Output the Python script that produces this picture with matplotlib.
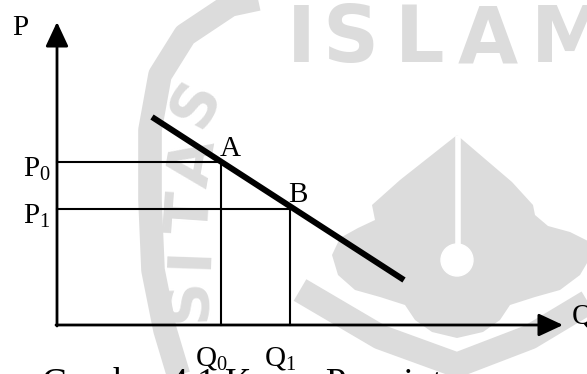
import numpy as np
import matplotlib
matplotlib.use("Agg")
import matplotlib.pyplot as plt
from matplotlib.patches import Polygon, Circle

plt.rcParams['font.family'] = ['Liberation Serif', 'DejaVu Serif']
plt.rcParams['mathtext.fontset'] = 'custom'
plt.rcParams['mathtext.rm'] = 'Liberation Serif'
plt.rcParams['mathtext.it'] = 'Liberation Serif'

# demand curve and the two equilibrium points (quantity, price)
demand_q = [95, 347]
demand_p = [208, 45]
point_names = ['A', 'B']
q_values = [164, 233]
p_values = [163, 116]
q_labels = [r'$\mathrm{Q}_0$', r'$\mathrm{Q}_1$']
p_labels = [r'$\mathrm{P}_0$', r'$\mathrm{P}_1$']
caption = 'Gambar 4.1 Kurva Permintaan'

fig = plt.figure(figsize=(5.87, 3.74), dpi=100)
ax = fig.add_axes([0, 0, 1, 1])
ax.set_xlim(-57, 530)
ax.set_ylim(-49, 325)
ax.axis('off')

# faint university logo watermark behind the chart (page pixel coords)
wm = '#dcdcdc'
def px(x, y):
    return (x - 57, 325 - y)

for ch, x in zip('ISLAM', [301, 350, 420, 488, 570]):
    ax.text(*px(x, 40), ch, fontsize=56, family='DejaVu Sans', fontweight='bold',
            color=wm, va='center', ha='center', zorder=0)

ring = [px(300, -10), px(230, 5), px(185, 35), px(160, 75), px(150, 130),
        px(150, 200), px(153, 270), px(165, 330), px(180, 380)]
ax.plot(*zip(*ring), color=wm, lw=17, solid_capstyle='butt', zorder=0)
ring_text = [('S', 197, 103, 62), ('A', 195, 163, 80), ('T', 192, 213, 86),
             ('I', 190, 257, 88), ('S', 188, 300, 92)]
for ch, x, y, rot in ring_text:
    ax.text(*px(x, y), ch, fontsize=44, family='DejaVu Sans', fontweight='bold',
            color=wm, rotation=rot, va='center', ha='center', zorder=0)

base = [px(300, 290), px(380, 337), px(457, 365), px(530, 337), px(600, 295)]
ax.plot(*zip(*base), color=wm, lw=18, solid_capstyle='butt', zorder=0)
body = [(457, 135), (400, 180), (372, 205), (375, 220), (358, 228), (340, 238),
        (332, 255), (338, 275), (355, 290), (380, 297), (405, 305), (415, 320),
        (432, 332), (457, 338), (483, 332), (500, 320), (510, 305), (535, 297),
        (560, 290), (580, 275), (590, 258), (590, 242), (570, 232), (548, 226),
        (535, 215), (533, 205), (512, 182)]
ax.add_patch(Polygon([px(x, y) for x, y in body], closed=True, color=wm, lw=0, zorder=0))
ax.plot(*zip(px(458, 138), px(458, 250)), color='white', lw=4, zorder=0)
ax.add_patch(Circle(px(457, 260), 16, color='white', zorder=0))

# axes with arrow heads
arrow = dict(arrowstyle='-|>,head_length=0.75,head_width=0.35', mutation_scale=20,
             lw=2, color='black', shrinkA=0, shrinkB=0)
ax.annotate('', xy=(0, 303), xytext=(0, -1), arrowprops=arrow)
ax.annotate('', xy=(506, 0), xytext=(-1, 0), arrowprops=arrow)
ax.text(-45, 290, 'P', fontsize=21, va='baseline', ha='left')
ax.text(515, 1, 'Q', fontsize=21, va='baseline', ha='left')

# guide lines from each point down to the axes
for q, p in zip(q_values, p_values):
    ax.plot([0, q], [p, p], color='black', lw=1.5)
    ax.plot([q, q], [0, p], color='black', lw=1.5)

ax.plot(demand_q, demand_p, color='black', lw=4.3, solid_capstyle='butt')

offsets = [(-1, 6), (-2, 7)]
for name, q, p, (dx, dy) in zip(point_names, q_values, p_values, offsets):
    ax.text(q + dx, p + dy, name, fontsize=21, va='baseline', ha='left')

for lab, p in zip(p_labels, p_values):
    ax.text(-34, p - 15, lab, fontsize=21, va='baseline', ha='left')
for lab, q in zip(q_labels, q_values):
    ax.text(q - 26, -40, lab, fontsize=21, va='baseline', ha='left')

ax.text(-15, -69, caption, fontsize=26.5, va='baseline', ha='left')

fig.savefig('out.png', dpi=100)
